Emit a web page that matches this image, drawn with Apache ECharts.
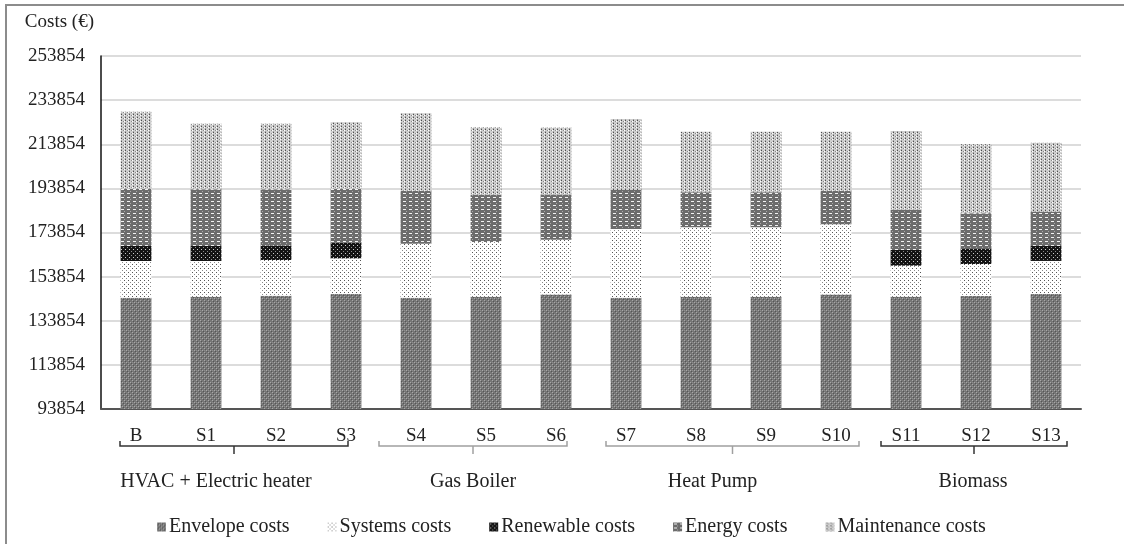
<!DOCTYPE html>
<html>
<head>
<meta charset="utf-8">
<title>Costs per scenario</title>
<script src="https://cdn.jsdelivr.net/npm/echarts@6/dist/echarts.min.js"></script>
<style>
  html, body { margin: 0; padding: 0; background: #ffffff; }
  #chart { width: 1124px; height: 544px; }
</style>
</head>
<body>
<div id="chart"></div>
<script>
// ---- data ----
const categories = ['B', 'S1', 'S2', 'S3', 'S4', 'S5', 'S6', 'S7', 'S8', 'S9', 'S10', 'S11', 'S12', 'S13'];
const envelopeCosts    = [144300, 144750, 145200, 146000, 144300, 144750, 145800, 144300, 144750, 144750, 145800, 144750, 145070, 146000];
const systemsCosts     = [16640, 16180, 16180, 16180, 24500, 24850, 24770, 31140, 31460, 31460, 31740, 14070, 14500, 14960];
const renewableCosts   = [6800, 6800, 6650, 7070, 0, 0, 0, 0, 0, 0, 0, 7100, 7100, 6800];
const energyCosts      = [25840, 25700, 25400, 24340, 24000, 21250, 20550, 17680, 15860, 15860, 15230, 18130, 15870, 15560];
const maintenanceCosts = [35030, 29730, 29730, 30230, 35080, 30690, 30380, 32180, 27470, 27470, 26740, 35810, 31270, 31270];
const seriesNames = ['Envelope costs', 'Systems costs', 'Renewable costs', 'Energy costs', 'Maintenance costs'];
const groupNames = ['HVAC + Electric heater', 'Gas Boiler', 'Heat Pump', 'Biomass'];
const groupFirst = ['B', 'S4', 'S7', 'S11'];
const groupLast  = ['S3', 'S6', 'S10', 'S13'];
const yMin = 93854, yMax = 253854, yStep = 20000;

// ---- styles ----
const FONT = '"Liberation Serif", "Times New Roman", serif';
const bracketColors = ['#333333', '#a0a0a0', '#a0a0a0', '#333333'];
const bracketPadLeft  = [-16, -37, -20, -25];
const bracketPadRight = [2, 11, 23, 21];
const groupLabelShift = [-18, 0, -20, -1];

// small tiled fills, built on a canvas
function pattern(w, h, bg, cells) {
  const c = document.createElement('canvas');
  c.width = w; c.height = h;
  const g = c.getContext('2d');
  g.fillStyle = bg; g.fillRect(0, 0, w, h);
  cells.forEach(function (p) {
    g.fillStyle = p[2];
    g.fillRect(p[0], p[1], p[3] || 1, p[4] || 1);
  });
  return { image: c, repeat: 'repeat' };
}

const fills = [
  // envelope: mid grey weave
  pattern(4, 4, '#767676', [[0, 0, '#a8a8a8'], [2, 2, '#a8a8a8'], [1, 1, '#555555'], [3, 3, '#555555'], [0, 2, '#8c8c8c']]),
  // systems: sparse dark dots on white
  pattern(4, 4, '#ffffff', [[0, 0, '#555555'], [2, 2, '#8a8a8a']]),
  // renewable: black with light holes
  pattern(4, 4, '#141414', [[1, 1, '#d0d0d0'], [3, 3, '#8a8a8a']]),
  // energy: dark grey with white dashes
  pattern(6, 4, '#6c6c6c', [[1, 1, '#f2f2f2', 3, 1], [4, 3, '#a8a8a8', 1, 1]]),
  // maintenance: light grey dotted columns
  pattern(4, 3, '#cfcfcf', [[1, 0, '#4e4e4e'], [3, 1, '#8c8c8c'], [1, 2, '#a0a0a0'], [0, 1, '#ffffff']])
];

const values = [envelopeCosts, systemsCosts, renewableCosts, energyCosts, maintenanceCosts];

const chart = echarts.init(document.getElementById('chart'), null, { renderer: 'canvas' });

chart.setOption({
  animation: false,
  backgroundColor: '#ffffff',
  textStyle: { fontFamily: FONT },
  grid: { left: 101, right: 43, top: 56, bottom: 135, containLabel: false },
  legend: {
    data: seriesNames,
    bottom: 7,
    left: 157,
    padding: 0,
    icon: 'rect',
    itemWidth: 9,
    itemHeight: 9,
    itemGap: 38,
    textStyle: { fontFamily: FONT, fontSize: 20, color: '#222222', padding: [0, 0, 0, -2] }
  },
  xAxis: {
    type: 'category',
    data: categories,
    axisLine: { lineStyle: { color: '#555555', width: 2 } },
    axisTick: { show: false },
    axisLabel: { fontFamily: FONT, fontSize: 19, color: '#222222', margin: 18 }
  },
  yAxis: {
    type: 'value',
    min: yMin,
    max: yMax,
    interval: yStep,
    name: 'Costs (€)',
    nameLocation: 'end',
    nameGap: 34,
    nameTextStyle: { fontFamily: FONT, fontSize: 19, color: '#222222', align: 'right', verticalAlign: 'middle', padding: [0, 7, 0, 0] },
    axisLine: { show: true, lineStyle: { color: '#111111', width: 1.5 } },
    axisTick: { show: false },
    axisLabel: {
      fontFamily: FONT, fontSize: 19, color: '#222222', margin: 16,
      formatter: function (v) { return String(v); }
    },
    splitLine: { lineStyle: { color: '#dcdcdc', width: 2 } }
  },
  series: seriesNames.map(function (name, i) {
    return {
      name: name,
      type: 'bar',
      stack: 'costs',
      barWidth: '44%',
      data: values[i],
      itemStyle: { color: fills[i] },
      emphasis: { disabled: true }
    };
  })
});

// group brackets and group names under the category labels
function drawGroups() {
  const base = chart.convertToPixel({ yAxisIndex: 0 }, yMin);
  const lineY = base + 37;
  const elements = [{
    type: 'rect',
    silent: true,
    z: 0,
    shape: { x: 6, y: 5, width: 1200, height: 700 },
    style: { fill: 'none', stroke: '#8c8c8c', lineWidth: 2 }
  }];
  groupNames.forEach(function (name, i) {
    const x0 = chart.convertToPixel({ xAxisIndex: 0 }, groupFirst[i]) + bracketPadLeft[i];
    const x1 = chart.convertToPixel({ xAxisIndex: 0 }, groupLast[i]) + bracketPadRight[i];
    const xm = (x0 + x1) / 2;
    const stroke = { stroke: bracketColors[i], lineWidth: 1.5, fill: 'none' };
    elements.push({
      type: 'polyline', silent: true,
      shape: { points: [[x0, lineY - 5], [x0, lineY], [x1, lineY], [x1, lineY - 5]] },
      style: stroke
    });
    elements.push({
      type: 'line', silent: true,
      shape: { x1: xm, y1: lineY, x2: xm, y2: lineY + 8 },
      style: stroke
    });
    elements.push({
      type: 'text', silent: true,
      x: xm + groupLabelShift[i], y: base + 73,
      style: { text: name, font: '20px ' + FONT, fill: '#222222', align: 'center', verticalAlign: 'middle' }
    });
  });
  chart.setOption({ graphic: { elements: elements } });
}
drawGroups();
</script>
</body>
</html>
